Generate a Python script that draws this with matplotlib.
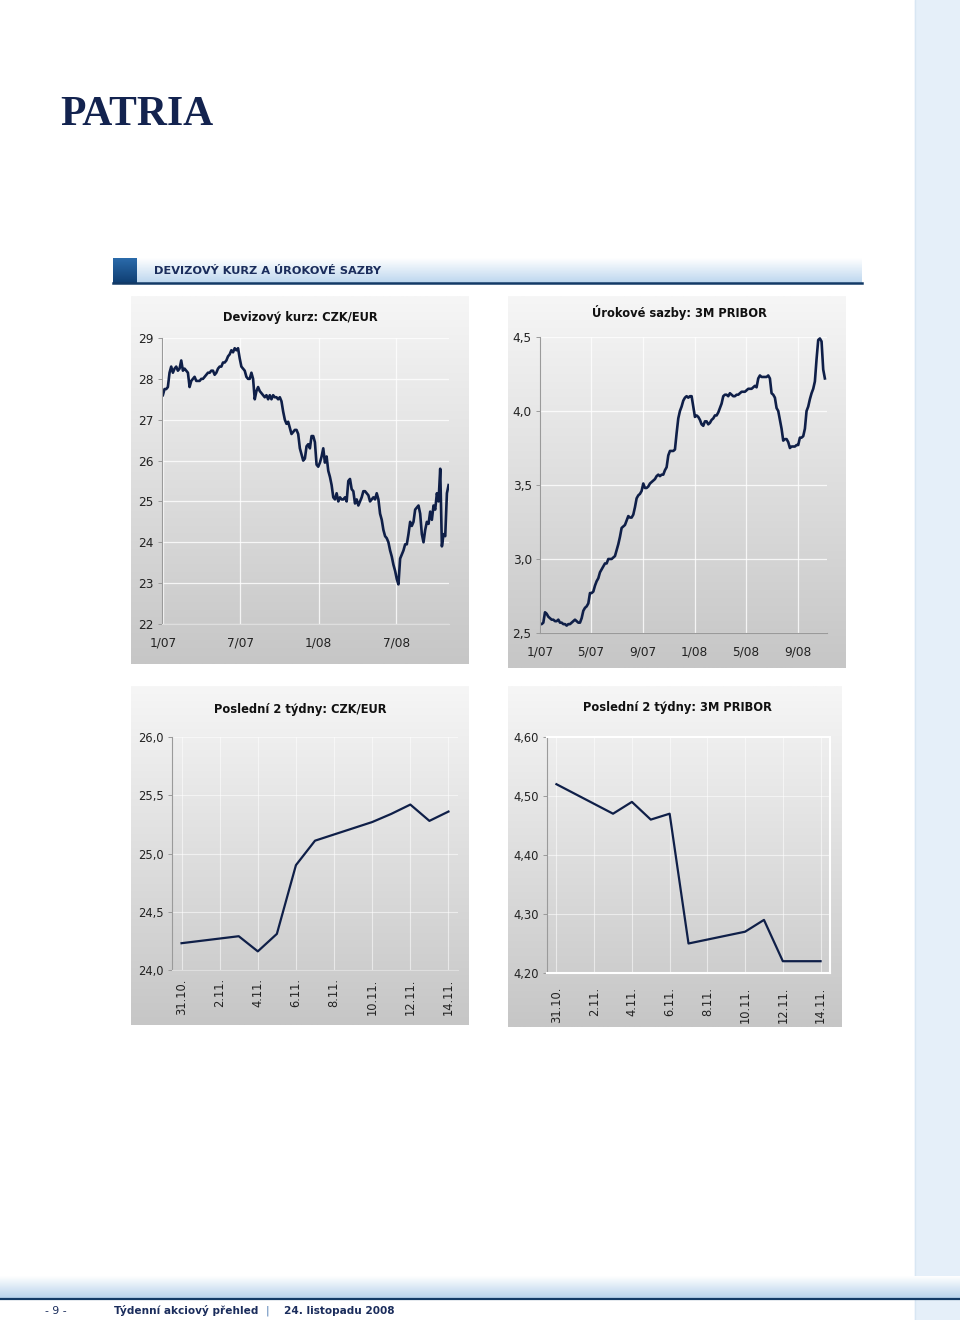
import matplotlib
matplotlib.use("Agg")
import matplotlib.pyplot as plt
import numpy as np
import pandas as pd

plt.rcParams['font.family'] = ['DejaVu Sans']

# ---------------- data ----------------
czk_eur = [27.6, 27.75, 27.75, 27.8, 28.15, 28.3, 28.15, 28.25, 28.3, 28.2,
           28.25, 28.45, 28.2, 28.25, 28.2, 28.15, 27.8, 27.95, 28.0, 28.05,
           27.95, 27.95, 27.95, 28.0, 28.0, 28.05, 28.1, 28.15, 28.15, 28.2,
           28.2, 28.1, 28.15, 28.25, 28.3, 28.3, 28.4, 28.4, 28.45, 28.55,
           28.6, 28.7, 28.65, 28.75, 28.7, 28.75, 28.5, 28.3, 28.25, 28.2,
           28.05, 28.0, 28.0, 28.15, 28.0, 27.5, 27.7, 27.8, 27.7, 27.65,
           27.6, 27.55, 27.6, 27.5, 27.6, 27.5, 27.6, 27.55, 27.55, 27.5,
           27.55, 27.45, 27.2, 27.0, 26.9, 26.95, 26.8, 26.65, 26.7, 26.75,
           26.75, 26.65, 26.3, 26.15, 26.0, 26.05, 26.35, 26.4, 26.3, 26.6,
           26.6, 26.45, 25.9, 25.85, 25.95, 26.1, 26.3, 25.95, 26.1, 25.75,
           25.6, 25.4, 25.1, 25.05, 25.2, 25.0, 25.1, 25.05, 25.05, 25.1,
           25.0, 25.5, 25.55, 25.3, 25.25, 24.95, 25.05, 24.9, 25.0, 25.1,
           25.25, 25.25, 25.2, 25.15, 25.0, 25.05, 25.1, 25.05, 25.2, 25.05,
           24.7, 24.55, 24.3, 24.15, 24.1, 24.0, 23.8, 23.65, 23.45, 23.3,
           23.1, 22.97, 23.6, 23.7, 23.8, 23.95, 23.95, 24.2, 24.5, 24.4,
           24.5, 24.8, 24.85, 24.9, 24.7, 24.2, 24.0, 24.3, 24.5, 24.45,
           24.75, 24.55, 24.9, 24.8, 25.2, 25.0, 25.8, 23.9, 24.2, 24.15,
           25.2, 25.4]
czk_start, czk_end = '2007-01-01', '2008-11-01'

pribor = [2.56, 2.56, 2.57, 2.64, 2.63, 2.61, 2.60, 2.59, 2.59, 2.58,
          2.58, 2.59, 2.57, 2.57, 2.56, 2.56, 2.55, 2.56, 2.56, 2.57,
          2.58, 2.59, 2.58, 2.57, 2.57, 2.60, 2.65, 2.67, 2.68, 2.70,
          2.77, 2.77, 2.78, 2.82, 2.85, 2.87, 2.91, 2.93, 2.95, 2.97,
          2.97, 3.00, 3.00, 3.00, 3.01, 3.02, 3.06, 3.10, 3.15, 3.21,
          3.22, 3.23, 3.26, 3.29, 3.28, 3.28, 3.30, 3.35, 3.41, 3.43,
          3.44, 3.46, 3.51, 3.48, 3.48, 3.49, 3.51, 3.52, 3.53, 3.54,
          3.56, 3.57, 3.56, 3.57, 3.57, 3.60, 3.62, 3.70, 3.73, 3.73,
          3.73, 3.74, 3.85, 3.95, 4.00, 4.03, 4.07, 4.09, 4.10, 4.09,
          4.10, 4.10, 4.03, 3.96, 3.97, 3.96, 3.94, 3.91, 3.90, 3.93,
          3.93, 3.91, 3.92, 3.94, 3.95, 3.97, 3.97, 3.99, 4.02, 4.05,
          4.10, 4.11, 4.11, 4.10, 4.12, 4.11, 4.10, 4.10, 4.11, 4.11,
          4.12, 4.13, 4.13, 4.13, 4.14, 4.15, 4.15, 4.15, 4.16, 4.17,
          4.16, 4.22, 4.24, 4.23, 4.23, 4.23, 4.23, 4.24, 4.22, 4.12,
          4.11, 4.09, 4.02, 4.00, 3.94, 3.88, 3.80, 3.81, 3.81, 3.79,
          3.75, 3.76, 3.76, 3.76, 3.77, 3.77, 3.82, 3.82, 3.83, 3.88,
          4.00, 4.03, 4.08, 4.12, 4.15, 4.20, 4.35, 4.48, 4.49, 4.47,
          4.28, 4.22]
pribor_start, pribor_end = '2007-01-01', '2008-11-04'

long_ticks_czk = ['2007-01-01', '2007-07-01', '2008-01-01', '2008-07-01']
long_labels_czk = ['1/07', '7/07', '1/08', '7/08']
long_ticks_pribor = ['2007-01-01', '2007-05-01', '2007-09-01', '2008-01-01', '2008-05-01', '2008-09-01']
long_labels_pribor = ['1/07', '5/07', '9/07', '1/08', '5/08', '9/08']

dates_2w = ['2008-10-31', '2008-11-03', '2008-11-04', '2008-11-05', '2008-11-06', '2008-11-07',
            '2008-11-10', '2008-11-11', '2008-11-12', '2008-11-13', '2008-11-14']
czk_2w = [24.23, 24.29, 24.16, 24.31, 24.90, 25.11, 25.27, 25.34, 25.42, 25.28, 25.36]
pribor_2w = [4.52, 4.47, 4.49, 4.46, 4.47, 4.25, 4.27, 4.29, 4.22, 4.22, 4.22]
ticks_2w = ['2008-10-31', '2008-11-02', '2008-11-04', '2008-11-06', '2008-11-08',
            '2008-11-10', '2008-11-12', '2008-11-14']
labels_2w = ['31.10.', '2.11.', '4.11.', '6.11.', '8.11.', '10.11.', '12.11.', '14.11.']

# ---------------- layout helpers ----------------
W, H = 960, 1320
fig = plt.figure(figsize=(W / 100, H / 100), dpi=100)
NAVY = '#0f1f48'
TXT = '#1b2d5c'

bg = fig.add_axes([0, 0, 1, 1], zorder=0)
bg.set_xlim(0, W)
bg.set_ylim(H, 0)
bg.axis('off')


def vgrad(ax, x0, x1, y0, y1, c_top, c_bot, n=256):
    t = np.linspace(0, 1, n)[:, None]
    c0 = np.array(matplotlib.colors.to_rgb(c_top))
    c1 = np.array(matplotlib.colors.to_rgb(c_bot))
    img = (c0[None, None, :] * (1 - t[:, :, None]) + c1[None, None, :] * t[:, :, None])
    ax.imshow(img, extent=(x0, x1, y1, y0), aspect='auto', interpolation='bilinear', zorder=1)


def ax_px(x0, y0, x1, y1):
    a = fig.add_axes([x0 / W, 1 - y1 / H, (x1 - x0) / W, (y1 - y0) / H], zorder=2)
    a.patch.set_alpha(0)
    return a


# right strip
bg.add_patch(plt.Rectangle((915, 0), 45, H, color='#e5eff9', zorder=1))
bg.plot([915, 915], [0, H], color='#d8e6f3', lw=1, zorder=1)

# logo
bg.text(60, 125, 'PATRIA', fontsize=30, family='Liberation Serif', color='#13234f',
        fontweight='bold', va='baseline', ha='left', zorder=3)

# header bar
vgrad(bg, 113, 862, 258, 283, '#ffffff', '#bcd6ee')
vgrad(bg, 113, 137, 258, 283, '#2b6bab', '#0f3e72')
bg.plot([113, 862], [283, 283], color='#123a66', lw=1.8, zorder=3)
bg.text(154, 271, 'DEVIZOVÝ KURZ A ÚROKOVÉ SAZBY', fontsize=8.2, fontweight='bold',
        color=TXT, va='center', ha='left', zorder=3)

# footer
vgrad(bg, 0, W, 1276, 1298, '#ffffff', '#b8d3ec')
bg.plot([0, W], [1298.5, 1298.5], color='#123a66', lw=1.6, zorder=3)
bg.text(45, 1311, '- 9 -', fontsize=7.8, color=TXT, va='center', ha='left', zorder=3)
bg.text(114, 1311, 'Týdenní akciový přehled', fontsize=7.6, fontweight='bold',
        color=TXT, va='center', ha='left', zorder=3)
bg.text(266, 1311, '|', fontsize=8, color='#4a78b0', va='center', ha='left', zorder=3)
bg.text(284, 1311, '24. listopadu 2008', fontsize=7.6, fontweight='bold',
        color=TXT, va='center', ha='left', zorder=3)

# panels
panels = [(131, 469, 296, 664), (508, 846, 296, 668), (131, 469, 686, 1025), (508, 842, 686, 1027)]
for (x0, x1, y0, y1) in panels:
    vgrad(bg, x0, x1, y0, y1, '#f6f6f6', '#c6c6c6')

titles = [('Devizový kurz: CZK/EUR', 300, 318), ('Úrokové sazby: 3M PRIBOR', 679, 313),
          ('Poslední 2 týdny: CZK/EUR', 300, 709), ('Poslední 2 týdny: 3M PRIBOR', 677, 707)]
for t, x, y in titles:
    bg.text(x, y, t, fontsize=8.3, fontweight='bold', color='#111111',
            ha='center', va='center', zorder=3)


def style_axes(a, fs, xpad):
    for s in ['top', 'right']:
        a.spines[s].set_visible(False)
    a.spines['left'].set_color('#9a9a9a')
    a.spines['left'].set_linewidth(0.8)
    a.spines['bottom'].set_color('#dedede')
    a.spines['bottom'].set_linewidth(0.8)
    a.tick_params(axis='y', length=3, width=0.7, color='#9a9a9a', pad=3,
                  labelsize=fs, labelcolor='#222222')
    a.tick_params(axis='x', length=0, pad=xpad, labelsize=fs, labelcolor='#222222')
    a.grid(True, color='white', lw=0.9, alpha=0.8)
    a.set_axisbelow(True)


# ---- chart 1: CZK/EUR long ----
a1 = ax_px(162, 338, 449, 624)
d1 = pd.date_range(czk_start, czk_end, periods=len(czk_eur))
a1.plot(d1, czk_eur, color=NAVY, lw=1.9, solid_joinstyle='round')
a1.set_ylim(22, 29)
a1.set_yticks(range(22, 30))
a1.set_yticklabels([str(v) for v in range(22, 30)])
a1.set_xlim(pd.Timestamp('2006-12-30'), pd.Timestamp('2008-11-02'))
a1.set_xticks(pd.to_datetime(long_ticks_czk))
a1.set_xticklabels(long_labels_czk)
style_axes(a1, 8.7, 9)

# ---- chart 2: PRIBOR long ----
a2 = ax_px(540, 337, 827, 633)
d2 = pd.date_range(pribor_start, pribor_end, periods=len(pribor))
a2.plot(d2, pribor, color=NAVY, lw=1.9, solid_joinstyle='round')
a2.set_ylim(2.5, 4.5)
a2.set_yticks([2.5, 3.0, 3.5, 4.0, 4.5])
a2.set_yticklabels(['2,5', '3,0', '3,5', '4,0', '4,5'])
a2.set_xlim(pd.Timestamp('2007-01-01'), pd.Timestamp('2008-11-09'))
a2.set_xticks(pd.to_datetime(long_ticks_pribor))
a2.set_xticklabels(long_labels_pribor)
style_axes(a2, 8.7, 9)
a2.spines['bottom'].set_color('#9a9a9a')

# ---- chart 3: CZK/EUR 2 weeks ----
x2w = pd.to_datetime(dates_2w)
xlim2w = (pd.Timestamp('2008-10-31') - pd.Timedelta(hours=12), pd.Timestamp('2008-11-14') + pd.Timedelta(hours=12))
a3 = ax_px(172, 737, 458, 970)
a3.plot(x2w, czk_2w, color=NAVY, lw=1.6)
a3.set_ylim(24.0, 26.0)
a3.set_yticks([24.0, 24.5, 25.0, 25.5, 26.0])
a3.set_yticklabels(['24,0', '24,5', '25,0', '25,5', '26,0'])
a3.set_xlim(*xlim2w)
a3.set_xticks(pd.to_datetime(ticks_2w))
a3.set_xticklabels(labels_2w, rotation=90)
style_axes(a3, 8.3, 6)
a3.grid(True, color='white', lw=0.8, alpha=0.55)

# ---- chart 4: PRIBOR 2 weeks ----
a4 = ax_px(547, 737, 830, 973)
a4.plot(x2w, pribor_2w, color=NAVY, lw=1.6)
a4.set_ylim(4.20, 4.60)
a4.set_yticks([4.2, 4.3, 4.4, 4.5, 4.6])
a4.set_yticklabels(['4,20', '4,30', '4,40', '4,50', '4,60'])
a4.set_xlim(*xlim2w)
a4.set_xticks(pd.to_datetime(ticks_2w))
a4.set_xticklabels(labels_2w, rotation=90)
style_axes(a4, 8.3, 10)
a4.grid(True, color='white', lw=0.8, alpha=0.55)
for s in ['top', 'right', 'bottom']:
    a4.spines[s].set_visible(True)
    a4.spines[s].set_color('white')
    a4.spines[s].set_linewidth(1.5)

fig.savefig('out.png', dpi=100)
